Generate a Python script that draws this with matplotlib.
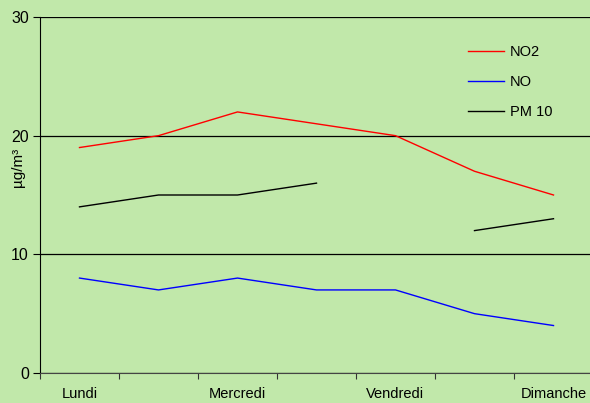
import matplotlib
matplotlib.use("Agg")
import matplotlib.pyplot as plt
import numpy as np

plt.rcParams['font.family'] = ['Liberation Sans', 'DejaVu Sans']

days = ["Lundi", "Mardi", "Mercredi", "Jeudi", "Vendredi", "Samedi", "Dimanche"]
no2 = [19, 20, 22, 21, 20, 17, 15]
no = [8, 7, 8, 7, 7, 5, 4]
pm10 = [14, 15, 15, 16, np.nan, 12, 13]
yticks = [0, 10, 20, 30]

bg = "#c1e8aa"
W, H = 590, 403
fig = plt.figure(figsize=(W/100, H/100), dpi=100, facecolor=bg)
ax = fig.add_axes([40/W, 30/H, 553/W, 356/H])
ax.set_facecolor(bg)

x = np.arange(len(days))
ax.plot(x, no2, color="#ff0000", lw=1, label="NO2")
ax.plot(x, no, color="#0000ff", lw=1, label="NO")
ax.plot(x, pm10, color="#000000", lw=1, label="PM 10")

ax.set_xlim(-0.5, len(days) - 0.5)
ax.set_ylim(0, 30)
ax.set_yticks(yticks)
ax.set_yticklabels([str(v) for v in yticks], fontsize=11.5)
ax.yaxis.grid(True, color="black", lw=0.9)
ax.set_axisbelow(True)

ax.set_xticks(np.arange(-0.5, len(days), 1.0))
ax.set_xticklabels([])
ax.set_xticks(x[::2], minor=True)
ax.set_xticklabels(days[::2], minor=True, fontsize=10.5)
ax.tick_params(axis='x', which='minor', length=0, pad=10)
ax.tick_params(axis='x', which='major', length=4, color="#333333")
ax.tick_params(axis='y', length=5, pad=3)

for s in ["top", "right"]:
    ax.spines[s].set_visible(False)
ax.spines["left"].set_color("black")
ax.spines["bottom"].set_color("#444444")

fig.text(18/W, 1 - 167/H, "µg/m³", rotation=90, fontsize=11,
         ha="center", va="center")

leg = ax.legend(loc="upper left", bbox_to_anchor=(468/W, 1 - 45/H),
                bbox_transform=fig.transFigure, frameon=False,
                fontsize=10.5, handlelength=2.5, handletextpad=0.35,
                labelspacing=1.1, borderpad=0, borderaxespad=0)

fig.savefig("out.png", dpi=100, facecolor=bg)
